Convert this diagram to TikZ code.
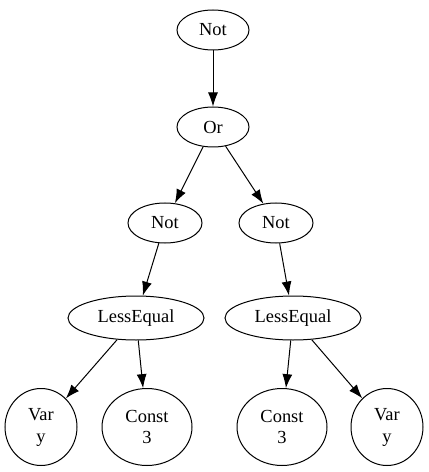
\documentclass[tikz,border=0pt]{standalone}
\usepackage{fontspec}
\setmainfont{Liberation Serif}
\usetikzlibrary{shapes.geometric,arrows.meta}

\begin{document}
\begin{tikzpicture}[x=1bp,y=-1bp,
	ast/.style={ellipse,draw,line width=1bp,inner sep=0pt,align=center,
		font=\fontsize{18.5}{22}\selectfont,minimum height=40bp},
	leaf/.style={ast,minimum height=77bp},
	edge/.style={-{Latex[length=14bp,width=10bp]},line width=1bp}
	]
	\useasboundingbox (0,0) rectangle (428,472);
	% inner nodes
	\node[ast,minimum width=72bp] (not0) at (213,30) {Not};
	\node[ast,minimum width=72bp] (or) at (213,127) {Or};
	\node[ast,minimum width=74bp] (notL) at (165,223) {Not};
	\node[ast,minimum width=74bp] (notR) at (276,223) {Not};
	\node[ast,minimum width=136bp,minimum height=44bp] (leqL) at (136,318) {LessEqual};
	\node[ast,minimum width=136bp,minimum height=44bp] (leqR) at (293,318) {LessEqual};
	% leaves
	\node[leaf,minimum width=72bp] (varL) at (41,427) {Var\\y};
	\node[leaf,minimum width=90bp] (constL) at (147,427) {Const\\3};
	\node[leaf,minimum width=90bp] (constR) at (282,427) {Const\\3};
	\node[leaf,minimum width=72bp] (varR) at (387,427) {Var\\y};
	% edges
	\draw[edge] (not0) -- (or);
	\draw[edge] (or) -- (notL);
	\draw[edge] (or) -- (notR);
	\draw[edge] (notL) -- (leqL);
	\draw[edge] (notR) -- (leqR);
	\draw[edge] (leqL) -- (varL);
	\draw[edge] (leqL) -- (constL);
	\draw[edge] (leqR) -- (constR);
	\draw[edge] (leqR) -- (varR);
\end{tikzpicture}
\end{document}
